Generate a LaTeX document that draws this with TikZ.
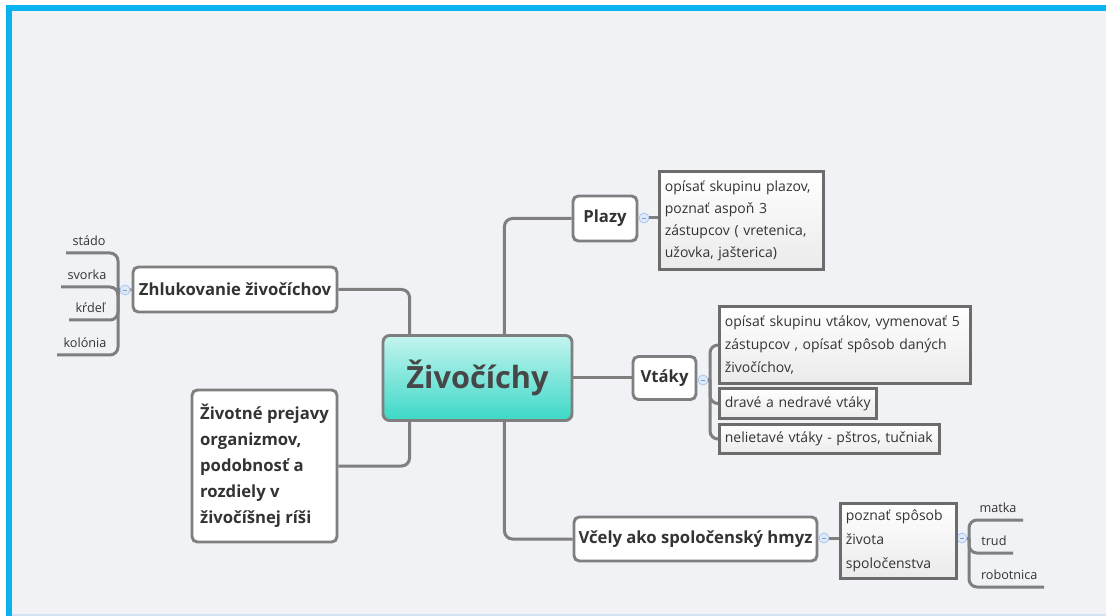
\documentclass[tikz,border=0pt]{standalone}
\usepackage{fontspec}
\setmainfont{Open Sans}

\definecolor{bgc}{HTML}{F1F2F6}
\definecolor{framec}{HTML}{0AB3EE}
\definecolor{edgec}{HTML}{7F7F7F}
\definecolor{txtc}{HTML}{333333}
\definecolor{tealtop}{HTML}{C4F4EF}
\definecolor{tealbot}{HTML}{3CD8C7}
\definecolor{colfill}{HTML}{DCE9FB}
\definecolor{coldraw}{HTML}{A9C6EE}

\tikzset{every picture/.style={line width=0.75pt}}
\tikzset{
  topic/.style={draw=edgec, line width=2.2pt, fill=white, rounded corners=4pt, text=txtc,
    font=\fontsize{12.5}{19.5}\selectfont\bfseries, inner sep=0pt},
  leaf/.style={draw=edgec!85!black, line width=2.3pt, top color=white, bottom color=black!8,
    text=txtc, font=\fontsize{10.5}{16.5}\selectfont, align=left, anchor=north west,
    inner xsep=4pt, inner ysep=0pt},
  word/.style={text=txtc, font=\fontsize{9.5}{11}\selectfont, inner xsep=4.5pt,
    inner ysep=5pt, text depth=0pt},
  collapse/.style={circle, draw=coldraw, fill=colfill, minimum size=7.5pt, inner sep=0pt,
    line width=0.6pt, path picture={\draw[coldraw!80!black, line width=0.6pt]
      ([xshift=-1.8pt]path picture bounding box.center) -- ([xshift=1.8pt]path picture bounding box.center);}},
  branch/.style={draw=edgec, line width=2.25pt, rounded corners=6pt}
}

\begin{document}
\begin{tikzpicture}[x=0.75pt,y=0.75pt,yscale=-1]
\useasboundingbox (0,0) rectangle (1106,616);

%Background and frame
\fill[white] (0,0) rectangle (1106,616);
\fill[bgc] (12,11) rectangle (1106,614);
\fill[framec] (6,5) rectangle (1106,11);
\fill[framec] (6,5) rectangle (12,616);
\fill[coldraw!50!white] (12,614) rectangle (1106,616);

% Central topic
\node[draw=edgec, line width=2.2pt, rounded corners=5pt, top color=tealtop, bottom color=tealbot,
  minimum width=141.75pt, minimum height=63.75pt, inner sep=0pt, text=txtc!90!white,
  font=\fontsize{23}{28}\selectfont\bfseries] (cent) at (477.5,378) {Živočíchy};

% Main topics
\node[topic, minimum width=153pt, minimum height=33.75pt] (zhl) at (235,289.5) {Zhlukovanie živočíchov};
\node[topic, minimum width=48pt, minimum height=33.75pt] (plazy) at (605,218.5) {Plazy};
\node[topic, minimum width=47.25pt, minimum height=32.25pt] (vtaky) at (664.5,378) {Vtáky};
\node[topic, minimum width=182.25pt, minimum height=33pt] (vcely) at (695.5,539) {Včely ako spoločenský hmyz};
\node[topic, minimum width=108.75pt, minimum height=114pt, align=left] (ziv) at (264.5,466)
  {Životné prejavy\\organizmov,\\podobnosť a\\rozdiely v\\živočíšnej ríši};

% Collapse marks
\node[collapse] (zcol) at (125,290) {};
\node[collapse] (pcol) at (644,218) {};
\node[collapse] (vcol) at (703,380) {};
\node[collapse] (ccol) at (824,538) {};
\node[collapse] (tcol) at (962,538) {};
\coordinate (zbr) at (118,290);
\coordinate (vbr) at (710,380);
\coordinate (tbr) at (969,538);

% Text boxes
\node[leaf, text width=115pt, minimum height=73.5pt] (ptxt) at (658,170)
  {opísať skupinu plazov,\\poznať aspoň 3\\zástupcov ( vretenica,\\užovka, jašterica)};
\node[leaf, text width=180.25pt, minimum height=57.75pt, font=\fontsize{10.5}{17}\selectfont] (vt1) at (718,305)
  {opísať skupinu vtákov, vymenovať 5\\zástupcov , opísať spôsob daných\\živočíchov,};
\node[leaf, text width=109.75pt, minimum height=22.5pt] (vt2) at (718,387) {dravé a nedravé vtáky};
\node[leaf, text width=157pt, minimum height=21.75pt] (vt3) at (718,423) {nelietavé vtáky - pštros, tučniak};
\node[leaf, text width=79pt, minimum height=56.25pt, font=\fontsize{10.5}{18}\selectfont] (vtxt) at (839,502)
  {poznať spôsob\\života\\spoločenstva};

% Word labels
\node[word, anchor=south west] (stado) at (66,253) {stádo};
\node[word, anchor=south west] (svorka) at (61,287) {svorka};
\node[word, anchor=south west] (krdel) at (69,320) {kŕdeľ};
\node[word, anchor=south west] (kolonia) at (57,355) {kolónia};
\node[word, anchor=south east] (matka) at (1023,520) {matka};
\node[word, anchor=south east] (trud) at (1013,553) {trud};
\node[word, anchor=south east] (robot) at (1044,587) {robotnica};

%Branches from the central topic
\draw[branch] (zhl.east) -| ([xshift=21pt]cent.north west);
\draw[branch] (plazy.west) -| ([xshift=-51.75pt]cent.north east);
\draw[branch] (cent.east) -- (vtaky.west);
\draw[branch] (ziv.east) -| ([xshift=21pt]cent.south west);
\draw[branch] (vcely.west) -| ([xshift=-51.75pt]cent.south east);

%Sub branches
\draw[branch] (zcol) -- (zhl.west);
\draw[branch] (zcol) -- (zbr);
\draw[branch] (zbr) |- (stado.south west);
\draw[branch] (zbr) |- (svorka.south west);
\draw[branch] (zbr) |- (krdel.south west);
\draw[branch] (zbr) |- (kolonia.south west);

\draw[branch] (pcol) -- (ptxt.west |- pcol);

\draw[branch] (vcol) -- (vbr);
\draw[branch] (vbr) |- (vt1.west);
\draw[branch] (vbr) |- (vt2.west);
\draw[branch] (vbr) |- (vt3.west);

\draw[branch] (ccol) -- (vtxt.west |- ccol);
\draw[branch] (tcol) -- (tbr);
\draw[branch] (tbr) |- (matka.south east);
\draw[branch] (tbr) |- (trud.south east);
\draw[branch] (tbr) |- (robot.south east);

\end{tikzpicture}
\end{document}
